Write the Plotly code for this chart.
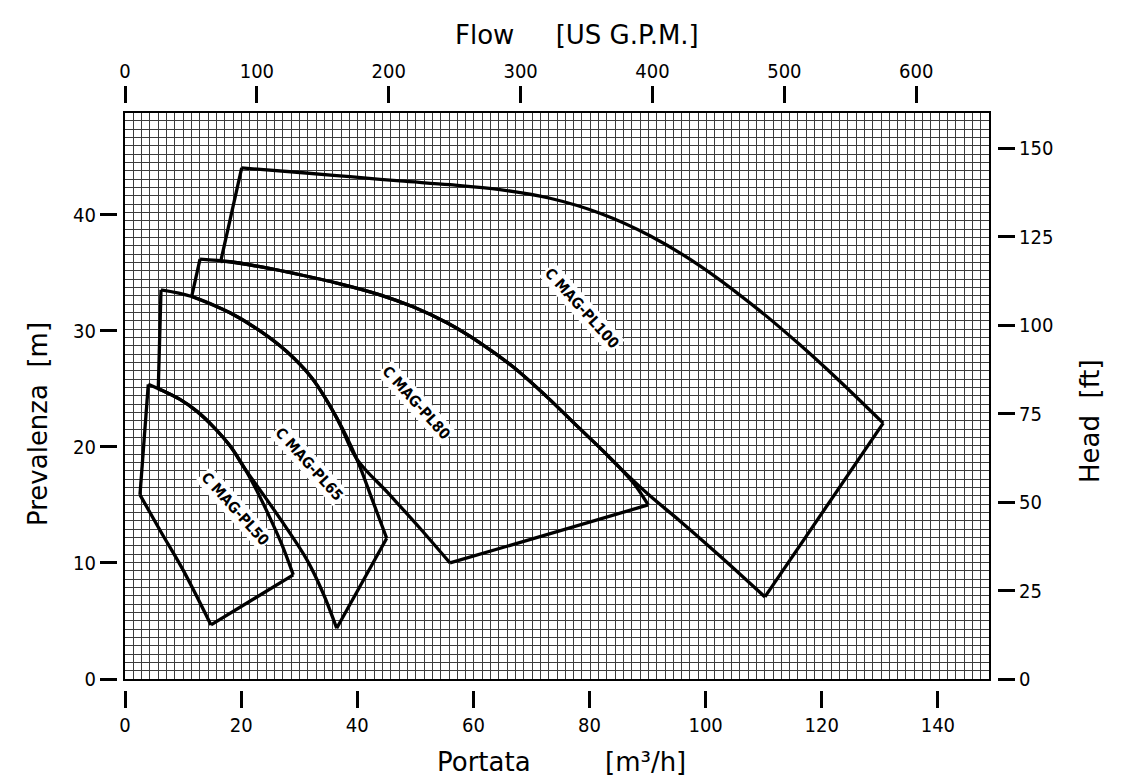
import plotly.graph_objects as go

# ---------------- data (flow in m3/h, head in m) ----------------
models = ["C MAG-PL50", "C MAG-PL65", "C MAG-PL80", "C MAG-PL100"]

pl50_top_q = [4.01, 6.54, 9.47, 12.40, 15.15, 18.08, 20.66, 22.90, 24.97, 27.04, 28.98]
pl50_top_h = [25.39, 24.83, 24.09, 23.06, 21.77, 20.09, 18.10, 16.03, 13.88, 11.55, 8.97]
pl50_low_q = [2.58, 6.20, 9.99, 14.81]
pl50_low_h = [15.86, 12.67, 9.40, 4.66]

pl65_top_q = [6.20, 11.49, 18.08, 23.25, 27.90, 32.15, 36.46, 39.90, 42.53, 45.07]
pl65_top_h = [33.53, 32.96, 31.55, 29.99, 28.19, 25.95, 22.50, 18.97, 15.52, 12.13]
pl65_low_q = [5.73, 6.54, 9.47, 12.40, 15.15, 18.08, 20.66, 23.25, 27.21, 31.34, 34.10, 36.46]
pl65_low_h = [25.00, 24.83, 24.09, 23.06, 21.77, 20.09, 18.10, 16.29, 13.45, 10.26, 7.41, 4.37]

pl80_top_q = [12.92, 18.08, 23.25, 30.14, 37.02, 43.91, 49.60, 55.45, 61.13, 66.82, 72.67,
              78.01, 81.80, 85.24, 87.83, 90.11]
pl80_top_h = [36.18, 35.95, 35.52, 34.83, 34.05, 33.10, 32.07, 30.69, 28.97, 26.90, 24.31,
              21.72, 19.91, 18.19, 16.72, 15.00]
pl80_low_q = [11.49, 18.08, 23.25, 27.90, 32.15, 36.46, 39.90, 45.29, 50.80, 55.97]
pl80_low_h = [32.96, 31.55, 29.99, 28.19, 25.95, 22.50, 18.97, 16.03, 12.99, 10.00]

pl100_top_q = [20.10, 30.14, 38.75, 47.36, 55.97, 64.58, 73.19, 81.80, 90.41, 99.02,
               109.35, 116.24, 122.83, 130.58]
pl100_top_h = [44.03, 43.64, 43.28, 42.91, 42.59, 42.16, 41.42, 40.13, 38.19, 35.60,
               31.72, 28.79, 25.78, 22.04]
pl100_low_q = [16.48, 18.08, 23.25, 30.14, 37.02, 43.91, 49.60, 55.45, 61.13, 66.82, 72.67,
               78.01, 81.80, 85.24, 90.41, 95.57, 102.46, 110.21]
pl100_low_h = [35.97, 35.95, 35.52, 34.83, 34.05, 33.10, 32.07, 30.69, 28.97, 26.90, 24.31,
               21.72, 19.91, 18.19, 15.78, 13.62, 10.60, 7.07]

label_q = [18.99, 31.69, 50.20, 78.65]
label_h = [14.66, 18.53, 23.79, 31.96]

flow_ticks_m3h = [0, 20, 40, 60, 80, 100, 120, 140]
flow_ticks_gpm = [0, 100, 200, 300, 400, 500, 600]
head_ticks_m = [0, 10, 20, 30, 40]
head_ticks_ft = [0, 25, 50, 75, 100, 125, 150]

X_MAX = 148.8      # m3/h at right border
Y_MAX = 48.8       # m at top border
M3H_PER_GPM = 0.227125
M_PER_FT = 0.3048

# ---------------- layout helpers ----------------
# The page body has an 8 px margin, so page-pixel positions are converted
# relative to the figure's top-left corner.
OFF = 8
W, H = 1122 - 2 * OFF, 782 - OFF
def fx(p):
    return (p - OFF) / W
def fy(p):
    return 1 - (p - OFF) / H

narrow = "DejaVu Sans Condensed, Liberation Sans Narrow, Arial Narrow, DejaVu Sans, sans-serif"
tick_font = dict(family=narrow, size=20, color="black")
title_font = dict(family="DejaVu Sans, Verdana, sans-serif", size=26, color="black")
label_font = dict(family=narrow, size=15, color="black", weight="bold")

curves = [
    (pl50_top_q, pl50_top_h, pl50_low_q, pl50_low_h),
    (pl65_top_q, pl65_top_h, pl65_low_q, pl65_low_h),
    (pl80_top_q, pl80_top_h, pl80_low_q, pl80_low_h),
    (pl100_top_q, pl100_top_h, pl100_low_q, pl100_low_h),
]

fig = go.Figure()
line = dict(color="black", width=3.3)
for name, (tq, th, lq, lh) in zip(models, curves):
    fig.add_trace(go.Scatter(
        x=tq + [None] + lq, y=th + [None] + lh, mode="lines",
        line=dict(color="black", width=3.3, shape="spline", smoothing=1.0),
        name=name, showlegend=False, hoverinfo="skip"))
    fig.add_trace(go.Scatter(
        x=[lq[0], tq[0], None, tq[-1], lq[-1]],
        y=[lh[0], th[0], None, th[-1], lh[-1]],
        mode="lines", line=line, name=name, showlegend=False, hoverinfo="skip"))

# invisible traces registering the secondary axes
fig.add_trace(go.Scatter(x=[], y=[], xaxis="x2", yaxis="y", showlegend=False))
fig.add_trace(go.Scatter(x=[], y=[], xaxis="x3", yaxis="y", showlegend=False))
fig.add_trace(go.Scatter(x=[], y=[], xaxis="x", yaxis="y2", showlegend=False))
fig.add_trace(go.Scatter(x=[], y=[], xaxis="x", yaxis="y3", showlegend=False))

xdom = [fx(125), fx(989)]
ydom = [fy(679), fy(112.6)]

grid = dict(showgrid=True, gridcolor="#3c3c3c", gridwidth=1, showticklabels=False,
            ticks="", zeroline=False, showline=True, mirror=True, linecolor="black",
            linewidth=1.5, automargin=False)

tick_axis = dict(ticks="outside", ticklen=17, tickwidth=2.5, tickcolor="black",
                 showline=False, showgrid=False, zeroline=False, tickfont=tick_font,
                 anchor="free", automargin=False)

fig.update_layout(
    width=W, height=H, autosize=False,
    margin=dict(l=0, r=0, t=0, b=0, pad=0, autoexpand=False),
    paper_bgcolor="white", plot_bgcolor="white",
    showlegend=False,
    xaxis=dict(domain=xdom, range=[0, X_MAX], dtick=X_MAX / 104, tick0=0, anchor="y", **grid),
    yaxis=dict(domain=ydom, range=[0, Y_MAX], dtick=Y_MAX / 68, tick0=0, anchor="x", **grid),
    xaxis2=dict(overlaying="x", domain=xdom, side="bottom", position=fy(690),
                range=[0, X_MAX], tickmode="array", tickvals=flow_ticks_m3h,
                ticktext=[str(v) for v in flow_ticks_m3h], **tick_axis),
    xaxis3=dict(overlaying="x", domain=xdom, side="top", position=fy(103),
                range=[0, X_MAX / M3H_PER_GPM], tickmode="array", tickvals=flow_ticks_gpm,
                ticktext=[str(v) for v in flow_ticks_gpm], **tick_axis),
    yaxis2=dict(overlaying="y", domain=ydom, side="left", position=fx(117),
                range=[0, Y_MAX], tickmode="array", tickvals=head_ticks_m,
                ticktext=[str(v) for v in head_ticks_m], **tick_axis),
    yaxis3=dict(overlaying="y", domain=ydom, side="right", position=fx(997),
                range=[0, Y_MAX / M_PER_FT], tickmode="array", tickvals=head_ticks_ft,
                ticktext=[str(v) for v in head_ticks_ft], **tick_axis),
)

nb = "\u00a0"
titles = [
    ("Flow" + nb * 5 + "[US G.P.M.]", 577, 35, 0),
    ("Portata" + nb * 9 + "[m³/h]", 561, 762, 0),
    ("Prevalenza" + nb * 2 + "[m]", 38, 424, -90),
    ("Head" + nb * 2 + "[ft]", 1090, 421, -90),
]
for text, x, y, ang in titles:
    fig.add_annotation(text=text, x=fx(x), y=fy(y), xref="paper", yref="paper",
                       showarrow=False, textangle=ang, font=title_font,
                       xanchor="center", yanchor="middle")

for name, q, h in zip(models, label_q, label_h):
    fig.add_annotation(text=name, x=q, y=h, xref="x", yref="y", showarrow=False,
                       textangle=48, font=label_font, bgcolor="white", borderpad=1,
                       xanchor="center", yanchor="middle")

fig.write_html("out.html")
